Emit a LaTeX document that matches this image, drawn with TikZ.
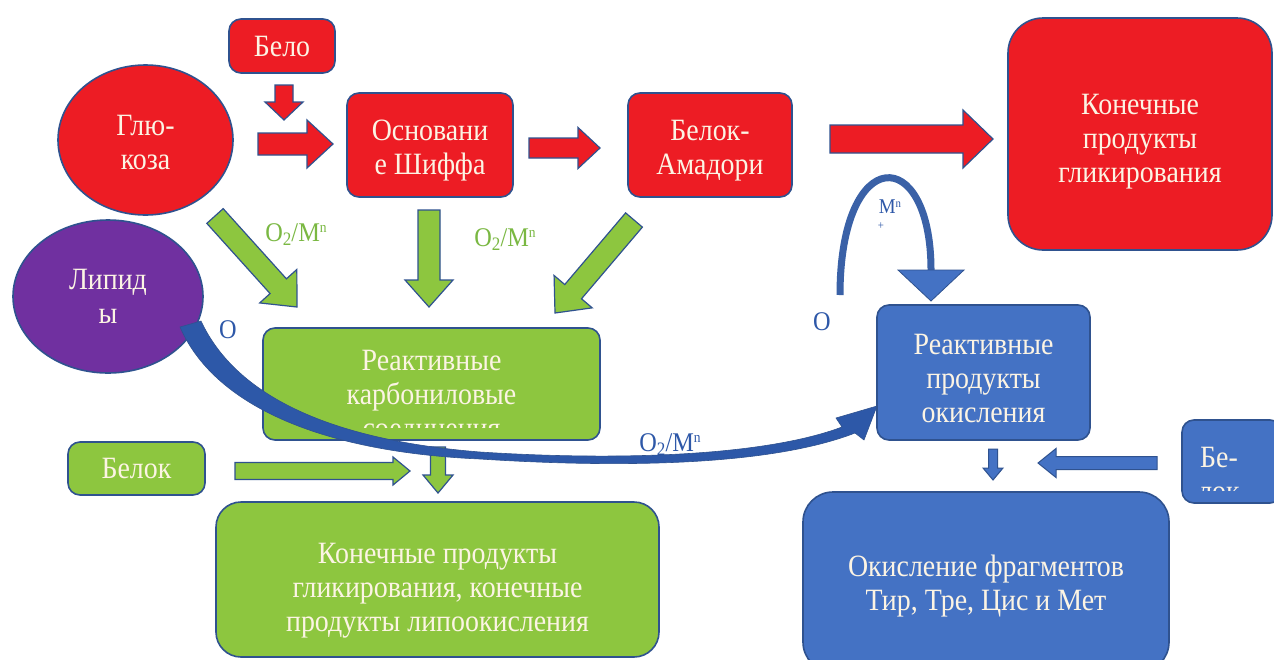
\documentclass[tikz,border=0pt]{standalone}
\usepackage{fontspec}
\setmainfont{Liberation Serif}[FakeStretch=0.9]
\usetikzlibrary{shapes.geometric,calc}
\definecolor{cRed}{RGB}{237,28,36}
\definecolor{cGreen}{RGB}{141,198,63}
\definecolor{cBlue}{RGB}{68,114,196}
\definecolor{cPurple}{RGB}{112,48,160}
\definecolor{cEdge}{RGB}{47,82,143}
\definecolor{cTxt}{RGB}{252,244,228}
\definecolor{cGlab}{RGB}{122,184,66}
\definecolor{cBlab}{RGB}{46,88,168}
\definecolor{cCurve}{RGB}{45,88,168}
\newcommand\barrow[6]{%
  \coordinate (bah) at ($#3!#6!#2$);
  \path[#1] ($#2!#4!90:#3$) -- ($(bah)!#4!90:#3$) -- ($(bah)!#5!90:#3$) -- #3
    -- ($(bah)!#5!-90:#3$) -- ($(bah)!#4!-90:#3$) -- ($#2!#4!-90:#3$) -- cycle;}
\newcommand\dn[1]{\rule{0pt}{#1pt}}
\newcommand\oxm{O\raisebox{-4pt}{\fontsize{19}{19}\selectfont 2}/M\raisebox{9pt}{\fontsize{15}{15}\selectfont n}}
\tikzset{
  boxtext/.style={text=cTxt, align=center, font=\fontsize{31}{34}\selectfont},
  box/.style={boxtext, draw=cEdge, line width=1.6pt, rounded corners=12pt, inner sep=0pt},
  rbox/.style={box, fill=cRed},
  gbox/.style={box, fill=cGreen},
  bbox/.style={box, fill=cBlue},
  oval/.style={boxtext, ellipse, draw=cEdge, line width=1.6pt, inner sep=0pt},
  redarrow/.style={fill=cRed, draw=cEdge, line width=1.2pt},
  greenarrow/.style={fill=cGreen, draw=cEdge, line width=1.2pt},
  bluearrow/.style={fill=cBlue, draw=cEdge, line width=1pt},
  glab/.style={text=cGlab, font=\fontsize{27}{28}\selectfont, inner sep=0pt},
  blab/.style={text=cBlab, font=\fontsize{27}{28}\selectfont, inner sep=0pt},
}
\begin{document}
\begin{tikzpicture}[x=1pt,y=-1pt]
\useasboundingbox[fill=white] (0,0) rectangle (1274,659);
% ---- nodes
\node[rbox, minimum width=106, minimum height=54] (belo) at (282,46) {Бело};
\node[oval, fill=cRed, minimum width=175, minimum height=150] (glu) at (145.5,140) {\dn{26}Глю-\\коза};
\node[rbox, minimum width=166, minimum height=104] (osn) at (430,145) {\dn{32}Основани\\е Шиффа};
\node[rbox, minimum width=164, minimum height=104] (amad) at (710,145) {\dn{32}Белок-\\Амадори};
\node[rbox, rounded corners=35pt, minimum width=264, minimum height=232] (kon) at (1140,134) {\dn{36}Конечные\\продукты\\гликирования};
\node[oval, fill=cPurple, minimum width=190, minimum height=153] (lip) at (108,296.5) {Липид\\ы};
\node[gbox, minimum width=337, minimum height=112,
  path picture={\clip ([yshift=-2pt]path picture bounding box.north west) rectangle ([yshift=13pt]path picture bounding box.south east);
    \node[boxtext] (rcbt) at ([yshift=-13pt]path picture bounding box.center) {Реактивные\\карбониловые\\соединения};}] (rcb) at (431.5,384) {};
\node[gbox, minimum width=137, minimum height=53] (belok) at (136.5,468.5) {Белок};
\node[gbox, rounded corners=25pt, minimum width=443, minimum height=155] (kpg) at (437.5,579.5) {\dn{42}Конечные продукты\\гликирования, конечные\\продукты липоокисления};
\node[bbox, minimum width=213, minimum height=135] (rpo) at (983.5,372.5) {\dn{33}Реактивные\\продукты\\окисления};
\node[bbox, minimum width=100, minimum height=83,
  path picture={\clip ([yshift=-2pt]path picture bounding box.north west) rectangle ([yshift=13pt]path picture bounding box.south east);
    \node[boxtext] (bel2t) at ([xshift=-13pt,yshift=-13pt]path picture bounding box.center) {Бе-\\лок};}] (bel2) at (1232,461.5) {};
\node[bbox, rounded corners=30pt, minimum width=366, minimum height=180] (okf) at (986,582) {\dn{29}Окисление фрагментов\\Тир, Тре, Цис и Мет};
% ---- labels
\node[glab] (l1) at (296,235) {\oxm};
\node[glab] (l2) at (505,240) {\oxm};
\node[blab] (l3) at (228,330) {O};
\node[blab] (l4) at (822,322) {O};
\node[blab] (l5) at (670,445) {\oxm};
\node[blab, font=\fontsize{21}{22}\selectfont] (l6) at (890,207) {M\raisebox{6pt}{\fontsize{12}{12}\selectfont n}};
\node[blab, font=\fontsize{12}{12}\selectfont] (l7) at (881,226) {+};
% ---- block arrows
\coordinate (a1s) at (284,85);  \coordinate (a1e) at (284,120);
\coordinate (a2s) at (258,144); \coordinate (a2e) at (333,144);
\coordinate (a3s) at (529,148); \coordinate (a3e) at (600,148);
\coordinate (a4s) at (830,139); \coordinate (a4e) at (993,139);
\barrow{redarrow}{(a1s)}{(a1e)}{9pt}{19pt}{18pt}
\barrow{redarrow}{(a2s)}{(a2e)}{11pt}{24pt}{26pt}
\barrow{redarrow}{(a3s)}{(a3e)}{10pt}{20.5pt}{22pt}
\barrow{redarrow}{(a4s)}{(a4e)}{14pt}{29pt}{30pt}
\coordinate (g1s) at (215,216); \coordinate (g1e) at (297,307);
\coordinate (g2s) at (429,210); \coordinate (g2e) at (429,307);
\coordinate (g3s) at (634,220); \coordinate (g3e) at (555,313);
\coordinate (g4s) at (235,471); \coordinate (g4e) at (410,471);
\coordinate (g5s) at (438,447); \coordinate (g5e) at (438,493);
\barrow{greenarrow}{(g1s)}{(g1e)}{11pt}{25pt}{28pt}
\barrow{greenarrow}{(g2s)}{(g2e)}{11pt}{24pt}{27pt}
\barrow{greenarrow}{(g3s)}{(g3e)}{11pt}{25pt}{28pt}
\barrow{greenarrow}{(g4s)}{(g4e)}{8.5pt}{14pt}{17pt}
\barrow{greenarrow}{(g5s)}{(g5e)}{7.5pt}{15pt}{18pt}
\coordinate (b1s) at (993,449);  \coordinate (b1e) at (993,480);
\coordinate (b2s) at (1157,463); \coordinate (b2e) at (1038,463);
\barrow{bluearrow}{(b1s)}{(b1e)}{4.5pt}{10pt}{12pt}
\barrow{bluearrow}{(b2s)}{(b2e)}{6.5pt}{14.5pt}{18pt}
% ---- loop arrow
\coordinate (lps) at (840,295); \coordinate (lpe) at (931,270); \coordinate (lpt) at (931,301);
\draw[cBlue!85!black, line width=7pt] (lps) .. controls (840,143) and (931,143) .. (lpe);
\fill[cBlue, draw=cEdge, line width=0.8pt] ($(lpe)+(-33,0)$) -- ($(lpe)+(33,0)$) -- (lpt) -- cycle;
% ---- curved arrow from lipids to reactive oxidation products
\fill[cCurve, draw=cEdge, line width=0.6pt] (201,321) .. controls (236,396) and (330,440) .. (480,452)
  .. controls (620,461) and (765,456) .. (842,427) -- (836,418) -- (877,406) -- (864,440) -- (855,433)
  .. controls (770,466) and (620,468) .. (480,459) .. controls (320,452) and (214,405) .. (180,327) -- cycle;
\end{tikzpicture}
\end{document}
